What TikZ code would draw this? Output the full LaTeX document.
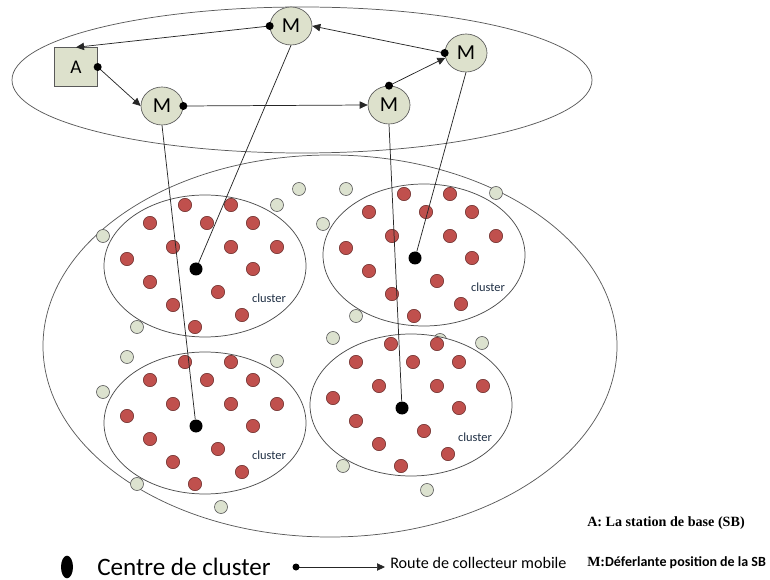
\documentclass[tikz,border=0pt]{standalone}
\usepackage{fontspec}
\setmainfont{Carlito}
\newfontfamily\tnrfont{Liberation Serif}
\usetikzlibrary{shapes.geometric,arrows.meta}
\definecolor{sage}{HTML}{DDE1CC}
\definecolor{greydot}{HTML}{DCE2CF}
\definecolor{reddot}{HTML}{C0504D}
\definecolor{redborder}{HTML}{6E2E2C}
\definecolor{labelblue}{HTML}{1F2F44}
\begin{document}
\begin{tikzpicture}[x=0.75pt,y=-0.75pt,
  mnode/.style={ellipse,draw=black!65,line width=0.5pt,fill=sage,minimum width=31.5pt,minimum height=28.5pt,inner sep=0pt,font=\fontsize{16}{17}\selectfont},
  anode/.style={rectangle,draw=black!65,line width=0.5pt,fill=sage,minimum width=32pt,minimum height=29pt,inner sep=0pt,font=\fontsize{14.5}{15}\selectfont},
  gdot/.style={circle,draw=black!65,line width=0.45pt,fill=greydot,minimum size=9.75pt,inner sep=0pt},
  rdot/.style={circle,draw=redborder,line width=0.45pt,fill=reddot,minimum size=10pt,inner sep=0pt},
  cdot/.style={circle,fill=black,minimum size=9.75pt,inner sep=0pt},
  clus/.style={ellipse,draw=black!70,line width=0.55pt,fill=white,minimum width=151.5pt,minimum height=106.5pt,inner sep=0pt},
  cluslabel/.style={text=labelblue,font=\fontsize{9.3}{10}\selectfont,inner sep=0pt},
  route/.style={draw=black!85,line width=0.55pt,-{Triangle[length=6pt,width=5.5pt]}},
  link/.style={draw=black!85,line width=0.55pt},
  startdot/.style={fill=black},
  outline/.style={draw=black!65,line width=0.55pt}
]
\useasboundingbox (0,0) rectangle (770,580);

% outer ellipses
\draw[outline] (330,346) ellipse [x radius=287, y radius=191];
\draw[outline] (302,80) ellipse [x radius=290, y radius=73];

% grey dot partly hidden behind a cluster
\node[gdot] (g0) at (440,340) {};

% clusters
\foreach \k/\cx/\cy in {1/196/269, 2/415/258, 3/196/426, 4/402/408}{
  \node[clus] (e\k) at (\cx+9,\cy-3) {};
  \foreach \dx/\dy [count=\i] in {-11/-64, 35/-64, -46/-46, 11/-46, 57/-46, -23/-22, 35/-22, 81/-22, -69/-10, 57/0, -46/13, 22/23, -23/36, 46/46, -1/58}{
    \node[rdot] (r\k-\i) at (\cx+\dx,\cy+\dy) {};
  }
  \node[cdot] (c\k) at (\cx,\cy) {};
  \node[cluslabel] (lab\k) at (\cx+73,\cy+29) {cluster};
}

% grey sensor dots
\foreach \x/\y [count=\i] in {103/236, 277/205, 299/189, 137/327, 346/189, 496/193, 323/224, 356/316, 333/338, 127/357, 277/361, 103/392, 137/484, 221/507, 482/343, 343/466, 427/490}{
  \node[gdot] (g\i) at (\x,\y) {};
}

% top nodes
\node[anode] (A) at (76,67) {A};
\node[mnode] (M1) at (291,26) {M};
\node[mnode] (M2) at (162,106) {M};
\node[mnode] (M3) at (389,105) {M};
\node[mnode] (M4) at (466,53) {M};

% links to cluster centres
\draw[link] (M1.south) -- (c1);
\draw[link] (M2.south) -- (c3);
\draw[link] (M3.south) -- (c4);
\draw[link] (M4.south) -- (c2);

% mobile collector route
\draw[route] (M1.west) -- (A.north);
\fill[startdot] (M1.west) circle (4);
\draw[route] (A.east) -- (M2.west);
\fill[startdot] (A.east) circle (4);
\draw[route] (M2.east) -- (M3.west);
\fill[startdot] (M2.east) circle (4);
\draw[route] (M3.north) -- (M4.193);
\fill[startdot] (M3.north) circle (4);
\draw[route] (M4.west) -- (M1.east);
\fill[startdot] (M4.west) circle (4);

% legend
\node[ellipse,fill=black,minimum width=9pt,minimum height=17pt,inner sep=0pt] (lgc) at (67,567) {};
\node[anchor=west,inner sep=0pt,font=\fontsize{18.8}{19}\selectfont] (lgct) at (97,567) {Centre de cluster};
\coordinate (lgs) at (296,567);
\coordinate (lge) at (385,567);
\draw[route] (lgs) -- (lge);
\fill[startdot] (lgs) circle (3.5);
\node[anchor=west,inner sep=0pt,font=\fontsize{12.1}{13}\selectfont] (lgrt) at (390,563) {Route de collecteur mobile};
\node[anchor=west,inner sep=0pt,font=\tnrfont\bfseries\fontsize{10.6}{11}\selectfont] (lga) at (587,523) {A: La station de base (SB)};
\node[anchor=west,inner sep=0pt,font=\bfseries\fontsize{10.5}{11}\selectfont] (lgm) at (587,563) {{\tnrfont M:}Déferlante position de la SB};
\end{tikzpicture}
\end{document}
